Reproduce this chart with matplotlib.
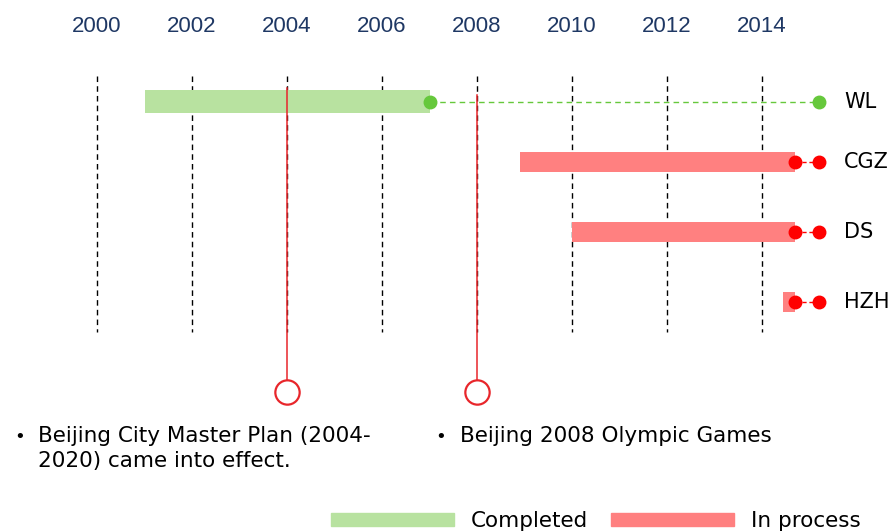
import matplotlib
matplotlib.use('Agg')
from matplotlib import pyplot as plt
from matplotlib.patches import Patch

# year axis
years = [2000, 2002, 2004, 2006, 2008, 2010, 2012, 2014]

# projects: name, start, end of bar, status
projects = ['WL', 'CGZ', 'DS', 'HZH']
starts = [2001.0, 2008.9, 2010.0, 2014.45]
ends = [2007.0, 2014.7, 2014.7, 2014.7]
completed = [True, False, False, False]
dot_end = 2015.2

# milestones
event_years = [2004, 2008]
event_texts = ['Beijing City Master Plan (2004-\n2020) came into effect.',
               'Beijing 2008 Olympic Games']

# layout (pixel rows)
row_y = [101.5, 162, 232, 302]
bar_h = [23, 20, 20, 20]

green_bar = '#b8e2a0'
green_dot = '#66c83c'
red_bar = '#ff8080'
red_dot = '#ff0000'
red_line = '#e8262b'
navy = '#1f3864'

W, H = 896, 532
fig = plt.figure(figsize=(W / 100, H / 100), dpi=100)
ax = fig.add_axes([0, 0, 1, 1])
px_per_year = 47.5
x0 = 2000 - 97 / px_per_year
ax.set_xlim(x0, x0 + W / px_per_year)
ax.set_ylim(H, 0)
ax.axis('off')


def px(x):
    # pixel column -> year units
    return x0 + x / px_per_year


# dashed grid lines and year labels
for yr in years:
    ax.plot([yr, yr], [76, 332], color='black', lw=1, ls=(0, (4, 3)), zorder=1)
    ax.text(yr, 27, str(yr), ha='center', va='center', color=navy,
            fontsize=16, family='Liberation Sans')

# bars, dots and labels
for name, s, e, done, y, h in zip(projects, starts, ends, completed, row_y, bar_h):
    if done:
        ax.barh(y, e - s, left=s, height=h, color=green_bar, zorder=2)
        ax.plot([e, dot_end], [y, y], color=green_dot, lw=1, ls=(0, (4, 3)), zorder=3)
        ax.plot([e, dot_end], [y, y], 'o', color=green_dot, ms=9, zorder=4)
    else:
        ax.barh(y, e - s, left=s, height=h, color=red_bar, zorder=2)
        ax.plot([e, dot_end], [y, y], color=red_dot, lw=1, ls=(0, (3, 2)), zorder=3)
        ax.plot([e, dot_end], [y, y], 'o', color=red_dot, ms=9, zorder=4)
    ax.annotate(name, (dot_end, y), xytext=(25, 0), textcoords='offset pixels',
                ha='left', va='center', fontsize=15, color='black')

# milestone lines with circles
line_tops = [88, 95]
for yr, top in zip(event_years, line_tops):
    ax.plot([yr, yr], [top, 380], color=red_line, lw=1.1, zorder=5)
    ax.plot(yr, 392, 'o', ms=17.5, mfc='white', mec=red_line, mew=1.6, zorder=6)

# bullet texts
ax.text(px(14), 437, '\u2022', ha='left', va='center', fontsize=13)
ax.text(px(38), 426, event_texts[0], ha='left', va='top',
        fontsize=15.5, linespacing=1.3)
ax.text(px(435), 437, '\u2022', ha='left', va='center', fontsize=13)
ax.text(px(460), 426, event_texts[1], ha='left', va='top', fontsize=15.5)

handles = [Patch(color=green_bar, label='Completed'),
           Patch(color=red_bar, label='In process')]
ax.legend(handles=handles, loc='lower left', bbox_to_anchor=(331 / W, 1 / H),
          bbox_transform=fig.transFigure, ncol=2, frameon=False, fontsize=15.5,
          handlelength=5.7, handleheight=0.56, handletextpad=0.8,
          columnspacing=1.07, borderpad=0, borderaxespad=0)

fig.savefig('out.png', dpi=100, facecolor='white')
